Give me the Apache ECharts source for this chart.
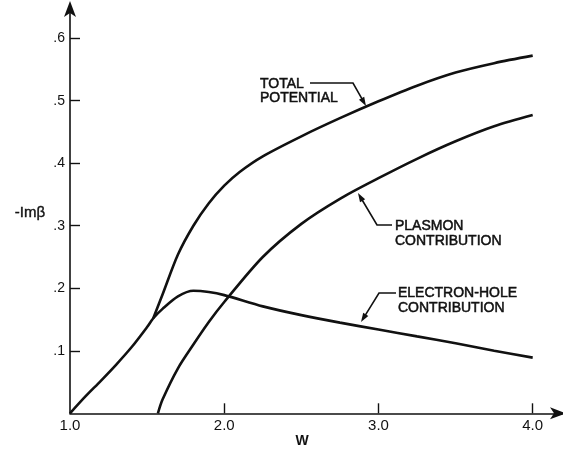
<!DOCTYPE html>
<html>
<head>
<meta charset="utf-8">
<script src="https://cdn.jsdelivr.net/npm/echarts@6/dist/echarts.min.js"></script>
<style>html,body{margin:0;padding:0;background:#fff}#c{width:563px;height:449px}</style>
</head>
<body>
<div id="c"></div>
<script>
// Data
var ehW    = [1.0, 1.1, 1.2, 1.3, 1.4, 1.5, 1.54, 1.6, 1.7, 1.8, 1.9, 2.0, 2.25, 2.5, 2.75, 3.0, 3.25, 3.5, 3.75, 4.0];
var ehVal  = [0.0, 0.027, 0.052, 0.078, 0.106, 0.138, 0.152, 0.167, 0.187, 0.196, 0.194, 0.189, 0.171, 0.157, 0.145, 0.134, 0.123, 0.112, 0.100, 0.089];
var totW   = [1.54, 1.6, 1.7, 1.8, 1.9, 2.0, 2.1, 2.25, 2.5, 2.75, 3.0, 3.25, 3.5, 3.75, 4.0];
var totVal = [0.152, 0.190, 0.254, 0.300, 0.336, 0.364, 0.386, 0.411, 0.443, 0.472, 0.499, 0.524, 0.545, 0.560, 0.572];
var plW    = [1.57, 1.6, 1.7, 1.8, 1.9, 2.0, 2.25, 2.5, 2.75, 3.0, 3.25, 3.5, 3.75, 4.0];
var plVal  = [0.0, 0.022, 0.072, 0.110, 0.146, 0.178, 0.250, 0.303, 0.343, 0.376, 0.407, 0.435, 0.459, 0.477];
var xTicks = [1, 2, 3, 4];
var yTicks = [0.1, 0.2, 0.3, 0.4, 0.5, 0.6];

function pairs(xs, ys) { return xs.map(function (x, i) { return [x, ys[i]]; }); }

var ink = '#111';
var FONT = '"Liberation Sans", Arial, sans-serif';
var chart = echarts.init(document.getElementById('c'), null, {renderer: 'canvas'});

function arrowLeader(points) {
  var n = points.length;
  var tip = points[n - 1], prev = points[n - 2];
  var dx = tip[0] - prev[0], dy = tip[1] - prev[1];
  var L = Math.sqrt(dx * dx + dy * dy); dx /= L; dy /= L;
  var len = 9, hw = 3;
  var bx = tip[0] - len * dx, by = tip[1] - len * dy;
  var px = -dy, py = dx;
  var line = points.slice(0, n - 1).concat([[bx + dx * 2, by + dy * 2]]);
  return [
    {type: 'polyline', shape: {points: line}, style: {stroke: ink, lineWidth: 1.6, fill: null}},
    {type: 'polygon', shape: {points: [tip, [bx + hw * px, by + hw * py], [bx - hw * px, by - hw * py]]}, style: {fill: ink}}
  ];
}
function label(text, x, y) {
  return {type: 'text', x: x, y: y, style: {text: text, fill: ink, stroke: ink, lineWidth: 0.5, font: '14px ' + FONT, textAlign: 'left', textVerticalAlign: 'middle'}};
}

var graphics = [];
graphics.push(label('TOTAL', 260, 84));
graphics.push(label('POTENTIAL', 260, 98));
graphics = graphics.concat(arrowLeader([[310, 83], [353, 83], [366, 106]]));
graphics.push(label('PLASMON', 395, 226));
graphics.push(label('CONTRIBUTION', 395, 241));
graphics = graphics.concat(arrowLeader([[392, 225], [377, 225], [358, 193]]));
graphics.push(label('ELECTRON-HOLE', 398, 293));
graphics.push(label('CONTRIBUTION', 398, 308));
graphics = graphics.concat(arrowLeader([[396, 293], [379, 293], [361, 322]]));
graphics.push({type: 'text', x: 30, y: 213, style: {text: '-Imβ', fill: ink, stroke: ink, lineWidth: 0.4, font: '15px ' + FONT, textAlign: 'center', textVerticalAlign: 'middle'}});
graphics.push({type: 'text', x: 302, y: 441, style: {text: 'W', fill: ink, font: 'bold 14px ' + FONT, textAlign: 'center', textVerticalAlign: 'middle'}});

var lineStyle = {color: ink, width: 2.6};
chart.setOption({
  animation: false,
  backgroundColor: '#fff',
  grid: {left: 70, right: 1, top: 5, bottom: 35.7, containLabel: false},
  xAxis: {
    type: 'value', min: 1, max: 4.19,
    axisLine: {show: true, lineStyle: {color: ink, width: 1.6}, symbol: ['none', 'arrow'], symbolSize: [9, 16], symbolOffset: [0, 4]},
    axisTick: {show: true, inside: true, length: 10, lineStyle: {color: ink, width: 1.4}, customValues: [2, 3, 4]},
    axisLabel: {customValues: xTicks, color: ink, fontSize: 15, margin: 5, fontFamily: FONT,
      formatter: function (v) { return v.toFixed(1); }},
    splitLine: {show: false}
  },
  yAxis: {
    type: 'value', min: 0, max: 0.653,
    axisLine: {show: true, lineStyle: {color: ink, width: 1.6}, symbol: ['none', 'arrow'], symbolSize: [9, 16], symbolOffset: [0, 4]},
    axisTick: {show: true, inside: true, length: 10, lineStyle: {color: ink, width: 1.4}, customValues: yTicks},
    axisLabel: {customValues: yTicks, color: ink, fontSize: 14, margin: 5, fontFamily: FONT,
      formatter: function (v) { return v.toFixed(1).replace(/^0/, ''); }},
    splitLine: {show: false}
  },
  series: [
    {name: 'Electron-hole contribution', type: 'line', data: pairs(ehW, ehVal), smooth: 0.3, showSymbol: false, lineStyle: lineStyle},
    {name: 'Total potential', type: 'line', data: pairs(totW, totVal), smooth: 0.3, showSymbol: false, lineStyle: lineStyle},
    {name: 'Plasmon contribution', type: 'line', data: pairs(plW, plVal), smooth: 0.3, showSymbol: false, lineStyle: lineStyle}
  ],
  graphic: graphics
});
</script>
</body>
</html>
